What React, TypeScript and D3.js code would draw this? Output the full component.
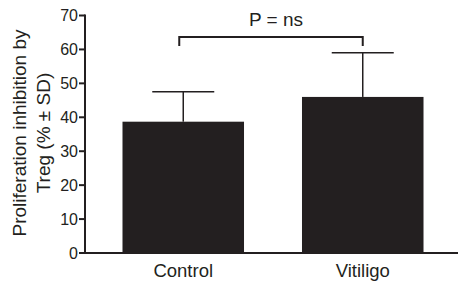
import React from 'react';
import * as d3 from 'd3';

const categories = ['Control', 'Vitiligo'];
const means = [38.7, 46.0];
const sds = [8.8, 13.0];
const yTicks = [0, 10, 20, 30, 40, 50, 60, 70];
const pLabel = 'P = ns';

const W = 458;
const H = 282;
const ink = '#231f20';
const font = 'Liberation Sans, Arial, Helvetica, sans-serif';

export default function App() {
  const x0 = 85;
  const y = d3.scaleLinear().domain([0, 70]).range([253, 15.5]);
  // bars sit at about 122-244 and 302-424
  const x = d3.scaleBand().domain(categories).range([86.6, 459.4]).paddingInner(0.323).paddingOuter(0.2);
  const bw = x.bandwidth();
  const capW = 62;
  const bracketY = 37;
  const cx = (c: string) => (x(c) || 0) + bw / 2;

  return (
    <svg width={W} height={H} style={{ position: 'absolute', left: 0, top: 0 }}>
      {/* y label */}
      <g transform="translate(0,133) rotate(-90)" fontFamily={font} fontSize={19} fill={ink} textAnchor="middle">
        <text x={0} y={26}>Proliferation inhibition by</text>
        <text x={0} y={50}>Treg (% ± SD)</text>
      </g>

      {/* bars */}
      {categories.map((c, i) => (
        <g key={c}>
          <line x1={cx(c)} x2={cx(c)} y1={y(means[i])} y2={y(means[i] + sds[i])} stroke={ink} strokeWidth={1.5} />
          <line x1={cx(c) - capW / 2} x2={cx(c) + capW / 2} y1={y(means[i] + sds[i])} y2={y(means[i] + sds[i])} stroke={ink} strokeWidth={1.5} />
          <rect x={x(c)} y={y(means[i])} width={bw} height={y(0) - y(means[i])} fill={ink} />
        </g>
      ))}

      {/* axes */}
      <line x1={x0} x2={x0} y1={y(70) - 1} y2={y(0) + 1} stroke={ink} strokeWidth={2} />
      <line x1={x0} x2={W} y1={y(0)} y2={y(0)} stroke={ink} strokeWidth={2} />
      {yTicks.map(t => (
        <g key={t}>
          <line x1={x0 - 6} x2={x0} y1={y(t)} y2={y(t)} stroke={ink} strokeWidth={2} />
          <text x={x0 - 7} y={y(t)} dy="0.36em" textAnchor="end" fontFamily={font} fontSize={16} fill={ink}>{t}</text>
        </g>
      ))}
      {categories.map(c => (
        <text key={c} x={cx(c)} y={277} textAnchor="middle" fontFamily={font} fontSize={18.5} fill={ink}>{c}</text>
      ))}

      {/* significance bracket */}
      <path
        d={`M${cx(categories[0]) - 4},${bracketY + 9}V${bracketY}H${cx(categories[1])}V${bracketY + 9}`}
        fill="none" stroke={ink} strokeWidth={2}
      />
      <text x={(cx(categories[0]) + cx(categories[1])) / 2 + 3} y={26} textAnchor="middle" fontFamily={font} fontSize={19} fill={ink}>{pLabel}</text>
    </svg>
  );
}
